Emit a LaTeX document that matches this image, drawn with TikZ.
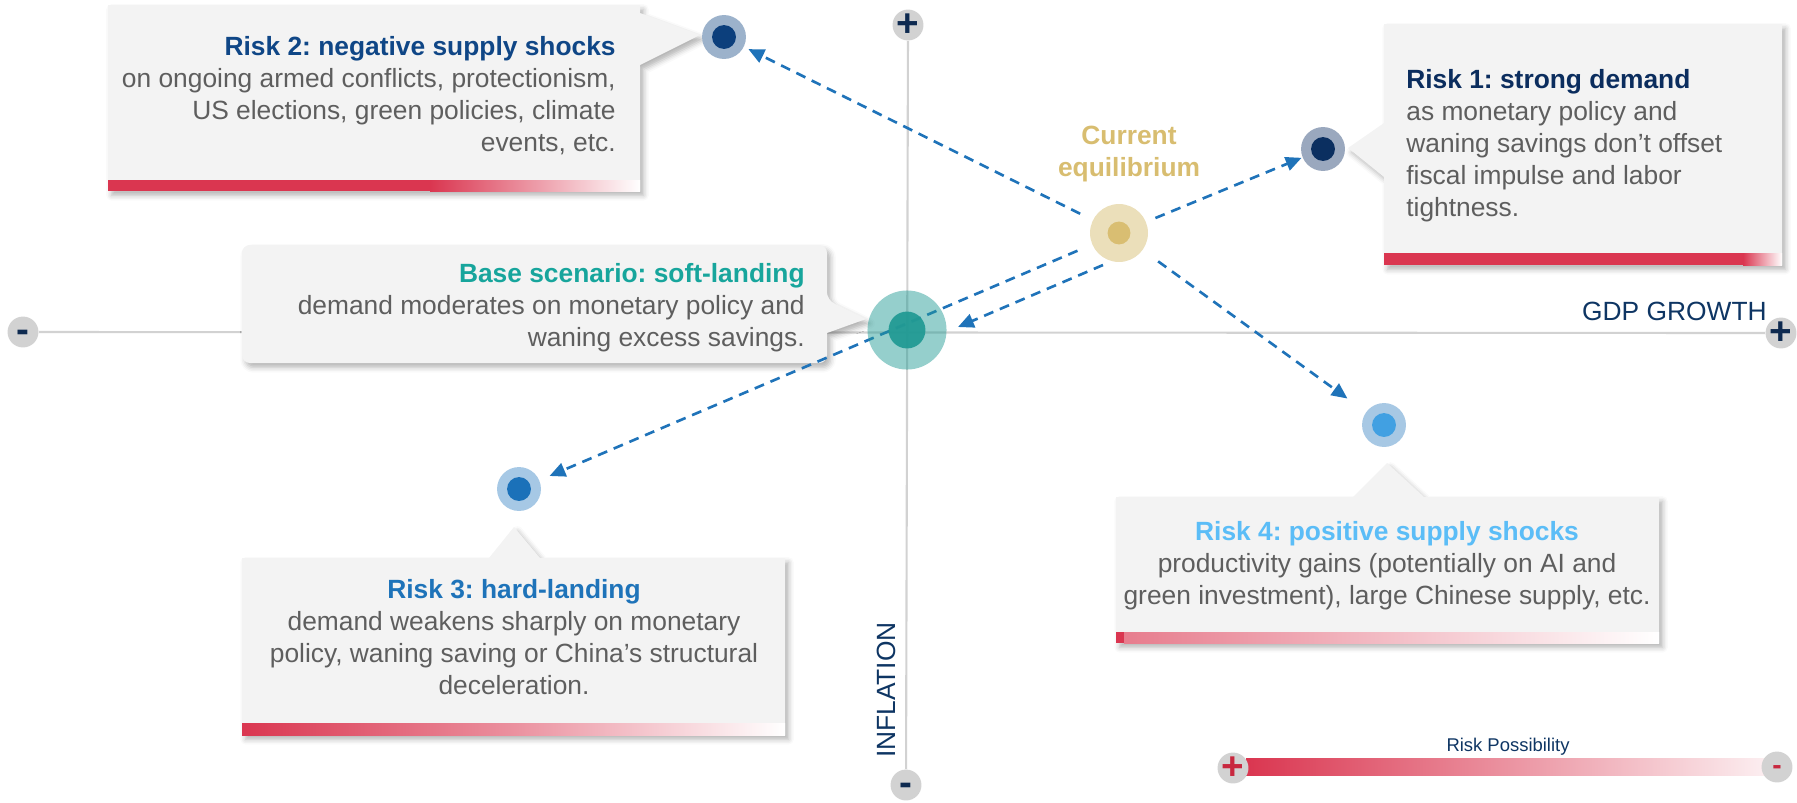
\documentclass[tikz,border=0pt]{standalone}
\usepackage{fontspec}
\setmainfont{Liberation Sans}
\usetikzlibrary{arrows.meta,shadows.blur}
\frenchspacing
\definecolor{boxgray}{HTML}{F3F3F3}
\definecolor{bodygray}{HTML}{5E5E5E}
\definecolor{axisgray}{HTML}{D2D2D2}
\definecolor{signnavy}{HTML}{0E2A50}
\definecolor{labelnavy}{HTML}{0E3563}
\definecolor{riskred}{HTML}{DA3650}
\definecolor{legendred}{HTML}{C8283F}
\definecolor{arrowblue}{HTML}{1F73B9}
\definecolor{rtwotitle}{HTML}{0F4686}
\definecolor{ronetitle}{HTML}{0B2D5E}
\definecolor{basetitle}{HTML}{17A59C}
\definecolor{rthreetitle}{HTML}{1E73B9}
\definecolor{rfourtitle}{HTML}{5BBDF7}
\definecolor{eqgold}{HTML}{D8BD70}
\definecolor{rtwoout}{HTML}{9CB2CB}
\definecolor{rtwoin}{HTML}{0C3F7C}
\definecolor{roneout}{HTML}{9AA8BE}
\definecolor{ronein}{HTML}{0B2F60}
\definecolor{eqout}{HTML}{EBDFBA}
\definecolor{eqin}{HTML}{D9BE72}
\definecolor{baseteal}{HTML}{229A94}
\definecolor{rthreeout}{HTML}{A6C8E5}
\definecolor{rthreein}{HTML}{1B71B9}
\definecolor{rfourout}{HTML}{A7C8E4}
\definecolor{rfourin}{HTML}{41A0E2}
\begin{document}
\begin{tikzpicture}[x=0.02cm,y=-0.02cm,
  every node/.style={inner sep=0pt,font=\fontsize{15}{18.2}\selectfont},
  callout/.style={fill=boxgray,blur shadow={shadow xshift=2pt,shadow yshift=-2.5pt,shadow blur radius=3pt,shadow opacity=30}},
  bodytext/.style={text=bodygray},
  riskdot/.style={circle,minimum size=#1},
  axisdot/.style={circle,fill=axisgray,minimum size=17.6pt},
  signtxt/.style={text=signnavy,font=\fontsize{22}{22}\bfseries\selectfont},
  axisline/.style={draw=axisgray,line width=1.2pt},
  riskarrow/.style={draw=arrowblue,line width=1.5pt,dash pattern=on 5.7pt off 4pt,-{Triangle[length=9pt,width=8pt]}}]
\useasboundingbox (0,0) rectangle (1797,802);
% axes
\node[axisdot] (ytop) at (908,25) {};
\node[axisdot] (ybot) at (906,785) {};
\node[axisdot] (xneg) at (23,332) {};
\node[axisdot] (xpos) at (1781,333) {};
\draw[axisline] (ytop) -- (ybot);
\draw[axisline] (xneg) -- (xpos);
\node[signtxt] (ytops) at (ytop) {+};
\node[signtxt,yshift=-2.5pt] (ybots) at (ybot) {-};
\node[signtxt,yshift=-2.5pt] (xnegs) at (xneg) {-};
\node[signtxt] (xposs) at (xpos) {+};
\node[text=labelnavy,anchor=east] (gdp) at (1767,311) {GDP GROWTH};
\node[text=labelnavy,rotate=90] (infl) at (886,690) {INFLATION};
% callouts
\path[callout] (108,5) -- (640,5) -- (640,13) -- (700,35) -- (640,65) -- (640,191) -- (108,191) -- cycle;
\fill[riskred] (108,180) rectangle (430,191);
\shade[left color=riskred,right color=white] (430,180) rectangle (640,191);
\path[callout] (1384,24) -- (1782,24) -- (1782,265) -- (1384,265) -- (1384,177) -- (1348,148) -- (1384,123) -- cycle;
\fill[riskred] (1384,253) rectangle (1743,265);
\shade[left color=riskred,right color=white] (1743,253) rectangle (1782,265);
\path[callout,rounded corners=4.5pt] (242,245) -- (827,245) -- (827,300) [sharp corners] -- (866,319) -- (827,333) [rounded corners=4.5pt] -- (827,363) -- (242,363) -- cycle;
\path[callout] (242,558) -- (489,558) -- (514,527) -- (540,558) -- (785,558) -- (785,735) -- (242,735) -- cycle;
\shade[left color=riskred,right color=white,middle color=riskred!55] (242,723) rectangle (785,735);
\path[callout] (1116,497) -- (1353,497) -- (1387,463) -- (1424,497) -- (1659,497) -- (1659,643) -- (1116,643) -- cycle;
\fill[riskred] (1116,632) rectangle (1124,643);
\shade[left color=riskred!65,right color=white] (1124,632) rectangle (1659,643);
% dots
\node[riskdot=25pt,fill=rtwoout] (r2) at (724,37) {};
\node[riskdot=13.6pt,fill=rtwoin] (r2c) at (r2) {};
\node[riskdot=25pt,fill=roneout] (r1) at (1323,149) {};
\node[riskdot=13.6pt,fill=ronein] (r1c) at (r1) {};
\node[riskdot=33pt,fill=eqout] (eq) at (1119,233) {};
\node[riskdot=13pt,fill=eqin] (eqc) at (eq) {};
\node[riskdot=25pt,fill=rthreeout] (r3) at (519,489) {};
\node[riskdot=13.6pt,fill=rthreein] (r3c) at (r3) {};
\node[riskdot=25pt,fill=rfourout] (r4) at (1384,425) {};
\node[riskdot=13.6pt,fill=rfourin] (r4c) at (r4) {};
\coordinate (basept) at (907,330);
\draw[riskarrow,shorten <=5.7pt,shorten >=0.5pt] (eq) -- (r1);
\draw[riskarrow,shorten <=8pt,shorten >=2.8pt] (eq) -- (r2);
\draw[riskarrow,shorten <=10.8pt,shorten >=13pt] (eq) -- (r4);
\draw[riskarrow,shorten <=9pt,shorten >=6.2pt] (eq) -- (r3);
\draw[riskarrow] ([shift={(-16,32)}]eq.center) -- ([shift={(51,-3)}]basept);
\node[riskdot=45pt,fill=baseteal,fill opacity=0.48] (base) at (basept) {};
\node[riskdot=21pt,fill=baseteal,fill opacity=0.95] (basec) at (base) {};
% texts
\node[bodytext,align=right,anchor=east] (r2txt) at (616,96) {\textbf{\textcolor{rtwotitle}{Risk 2: negative supply shocks}}\\on ongoing armed conflicts, protectionism,\\US elections, green policies, climate\\events, etc.};
\node[bodytext,align=left,anchor=west] (r1txt) at (1406,146) {\textbf{\textcolor{ronetitle}{Risk 1: strong demand}}\\as monetary policy and\\waning savings don’t offset\\fiscal impulse and labor\\tightness.};
\node[bodytext,align=right,anchor=east] (basetxt) at (805,308) {\textbf{\textcolor{basetitle}{Base scenario: soft-landing}}\\demand moderates on monetary policy and\\waning excess savings.};
\node[bodytext,align=center] (r3txt) at (514,637) {\textbf{\textcolor{rthreetitle}{Risk 3: hard-landing}}\\demand weakens sharply on monetary\\policy, waning saving or China’s structural\\deceleration.};
\node[bodytext,align=center] (r4txt) at (1387,566) {\textbf{\textcolor{rfourtitle}{Risk 4: positive supply shocks}}\\productivity gains (potentially on AI and\\green investment), large Chinese supply, etc.};
\node[text=eqgold,align=center,font=\fontsize{15}{18.2}\bfseries\selectfont] (eqtxt) at (1129,154) {Current\\equilibrium};
% legend
\shade[left color=riskred,right color=riskred!8] (1246,758) rectangle (1768,775);
\node[axisdot] (lplus) at (1233,768) {};
\node[axisdot] (lminus) at (1777,767) {};
\node[signtxt,text=legendred] (lpluss) at (lplus) {+};
\node[signtxt,text=legendred,font=\fontsize{16}{16}\bfseries\selectfont,yshift=-1.8pt] (lminuss) at (lminus) {-};
\node[text=labelnavy,font=\fontsize{10.5}{12}\selectfont] (lrisk) at (1508,747) {Risk Possibility};
\end{tikzpicture}
\end{document}
